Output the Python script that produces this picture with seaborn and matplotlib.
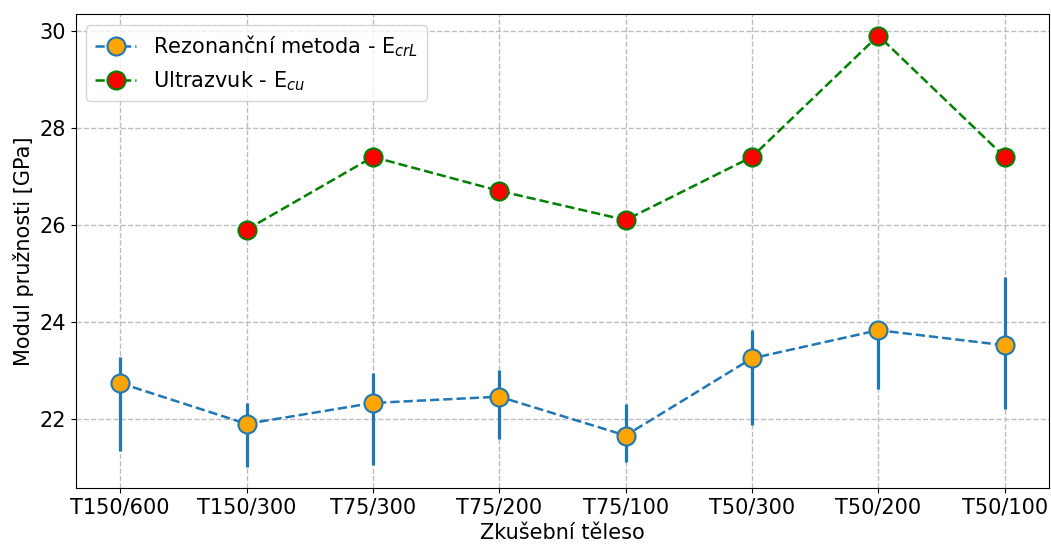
# modul pruznosti - rezonancni metoda vs ultrazvuk
import seaborn as sns
from matplotlib import pyplot as plt
import pandas as pd
import numpy as np

telesa = ['T150/600', 'T150/300', 'T75/300', 'T75/200', 'T75/100', 'T50/300', 'T50/200', 'T50/100']
e_crl = [22.74, 21.90, 22.33, 22.46, 21.66, 23.25, 23.83, 23.52]
e_crl_min = [21.35, 21.02, 21.05, 21.58, 21.12, 21.88, 22.62, 22.20]
e_crl_max = [23.27, 22.34, 22.95, 23.01, 22.31, 23.83, 23.83, 24.93]
e_cu = [np.nan, 25.9, 27.4, 26.7, 26.1, 27.4, 29.9, 27.4]

df = pd.DataFrame({'pos': np.arange(len(telesa)), 'teleso': telesa,
                   'e_crl': e_crl, 'e_cu': e_cu})

fig, ax = plt.subplots(figsize=(10.51, 5.47), dpi=100)
fig.subplots_adjust(left=0.0723, right=0.998, top=0.974, bottom=0.108)

# error bars (asymmetric) under the markers
ax.vlines(df['pos'], e_crl_min, e_crl_max, color='#1f77b4', linewidth=2.3, zorder=2)

sns.lineplot(data=df, x='pos', y='e_crl', estimator=None, sort=False, ax=ax,
             color='#1f77b4', linestyle='--', linewidth=1.8, marker='o', markersize=13,
             markerfacecolor='orange', markeredgecolor='#1f77b4', markeredgewidth=1.5,
             label='Rezonanční metoda - E$_{crL}$', zorder=3)
sns.lineplot(data=df.dropna(), x='pos', y='e_cu', estimator=None, sort=False, ax=ax,
             color='green', linestyle='--', linewidth=1.8, marker='o', markersize=13,
             markerfacecolor='red', markeredgecolor='green', markeredgewidth=1.5,
             label='Ultrazvuk - E$_{cu}$', zorder=3)

ax.set_xticks(df['pos'])
ax.set_xticklabels(telesa, fontsize=15)
ax.set_xlim(-0.35, 7.35)
ax.set_ylim(20.58, 30.34)
ax.set_yticks([22, 24, 26, 28, 30])
ax.tick_params(axis='y', labelsize=15)
ax.grid(True, linestyle='--', color='#bdbdbd', linewidth=1)
ax.set_axisbelow(True)
ax.set_xlabel('Zkušební těleso', fontsize=15)
ax.set_ylabel('Modul pružnosti [GPa]', fontsize=15)
ax.legend(loc='upper left', fontsize=15)

plt.savefig('out.png', dpi=100)
